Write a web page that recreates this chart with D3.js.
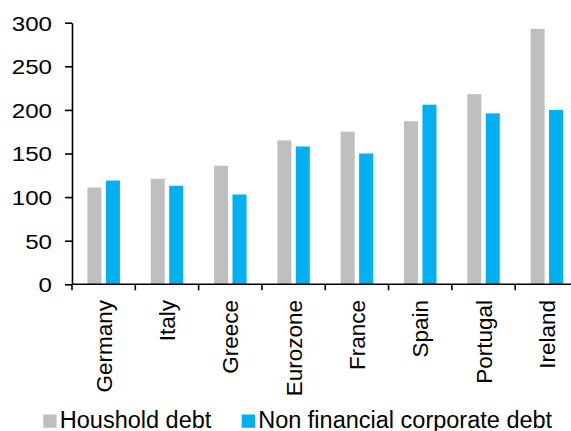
<!DOCTYPE html>
<html lang="en">

<head>
    <meta charset="UTF-8">
    <title>Household and corporate debt</title>
    <script src="https://d3js.org/d3.v7.min.js"></script>
    <style>
        body { margin: 0; background: #fff; }
        text { font-family: "Liberation Sans", Arial, sans-serif; fill: #000; }
    </style>
</head>

<body>
    <div id="chart"></div>

    <script>
        // Data
        const countries = ['Germany', 'Italy', 'Greece', 'Eurozone', 'France', 'Spain', 'Portugal', 'Ireland'];
        const householdDebt = [111, 121, 136, 165, 175, 187, 218, 293];
        const corporateDebt = [119, 113, 103, 158, 150, 206, 196, 200];
        const seriesNames = ['Houshold debt', 'Non financial corporate debt'];
        const seriesColors = ['#BFBFBF', '#00B0F0'];
        const yTicks = [0, 50, 100, 150, 200, 250, 300];

        const width = 571;
        const height = 431;

        const svg = d3.select('#chart')
            .append('svg')
            .attr('width', width)
            .attr('height', height);

        // Scales
        const x = d3.scaleBand()
            .domain(countries)
            .range([72, 578.5])
            .padding(0);

        const bw = x.bandwidth();
        const groupW = bw * 0.513;
        const xSeries = d3.scaleBand()
            .domain(seriesNames)
            .range([(bw - groupW) / 2, (bw + groupW) / 2])
            .paddingInner(0.24);

        const y = d3.scaleLinear()
            .domain([0, 300])
            .range([284.3, 22.7]);

        // Bars
        const rows = countries.map((c, i) => ({ key: c, values: [householdDebt[i], corporateDebt[i]] }));

        const groups = svg.selectAll('g.group')
            .data(rows)
            .enter()
            .append('g')
            .attr('class', 'group')
            .attr('transform', d => `translate(${x(d.key)},0)`);

        groups.selectAll('rect')
            .data(d => d.values.map((v, i) => ({ name: seriesNames[i], value: v, color: seriesColors[i] })))
            .enter()
            .append('rect')
            .attr('x', d => xSeries(d.name))
            .attr('y', d => y(d.value))
            .attr('width', xSeries.bandwidth())
            .attr('height', d => y(0) - y(d.value))
            .attr('fill', d => d.color);

        // Y axis (labels look a little wide in the picture)
        const yAxis = svg.append('g')
            .attr('transform', 'translate(72,0)')
            .call(d3.axisLeft(y).tickValues(yTicks).tickSize(7).tickSizeOuter(0));
        yAxis.select('.domain').attr('stroke', '#000').attr('stroke-width', 1.6);
        yAxis.selectAll('.tick line').attr('stroke', '#000').attr('stroke-width', 1.6);
        yAxis.selectAll('.tick text')
            .attr('x', 0)
            .attr('dy', '0.35em')
            .attr('transform', 'translate(-20,0) scale(1.15,1)')
            .style('font-size', '21px')
            .style('font-family', '"Liberation Sans", Arial, sans-serif')
            .attr('fill', '#000');

        // X axis: line plus ticks between categories
        const xAxis = svg.append('g').attr('class', 'x-axis');
        xAxis.append('line')
            .attr('x1', x.range()[0])
            .attr('x2', x.range()[1])
            .attr('y1', y(0))
            .attr('y2', y(0))
            .attr('stroke', '#000')
            .attr('stroke-width', 1.6);

        xAxis.selectAll('line.tick')
            .data(countries)
            .enter()
            .append('line')
            .attr('class', 'tick')
            .attr('x1', d => x(d))
            .attr('x2', d => x(d))
            .attr('y1', y(0))
            .attr('y2', y(0) + 6)
            .attr('stroke', '#000')
            .attr('stroke-width', 1.6);

        // Rotated category labels
        xAxis.selectAll('text')
            .data(countries)
            .enter()
            .append('text')
            .attr('transform', d => `translate(${x(d) + bw / 2 + 8.2},300) rotate(-90)`)
            .attr('text-anchor', 'end')
            .style('font-size', '22.5px')
            .text(d => d);

        // Legend
        const legendX = [43.3, 241.7];
        const legend = svg.selectAll('g.legend')
            .data(seriesNames)
            .enter()
            .append('g')
            .attr('class', 'legend')
            .attr('transform', (d, i) => `translate(${legendX[i]},414.5)`);

        legend.append('rect')
            .attr('width', 13.3)
            .attr('height', 13.3)
            .attr('fill', (d, i) => seriesColors[i]);

        legend.append('text')
            .attr('x', 16.5)
            .attr('y', 13)
            .style('font-size', '23.5px')
            .text(d => d);
    </script>

</body>

</html>
